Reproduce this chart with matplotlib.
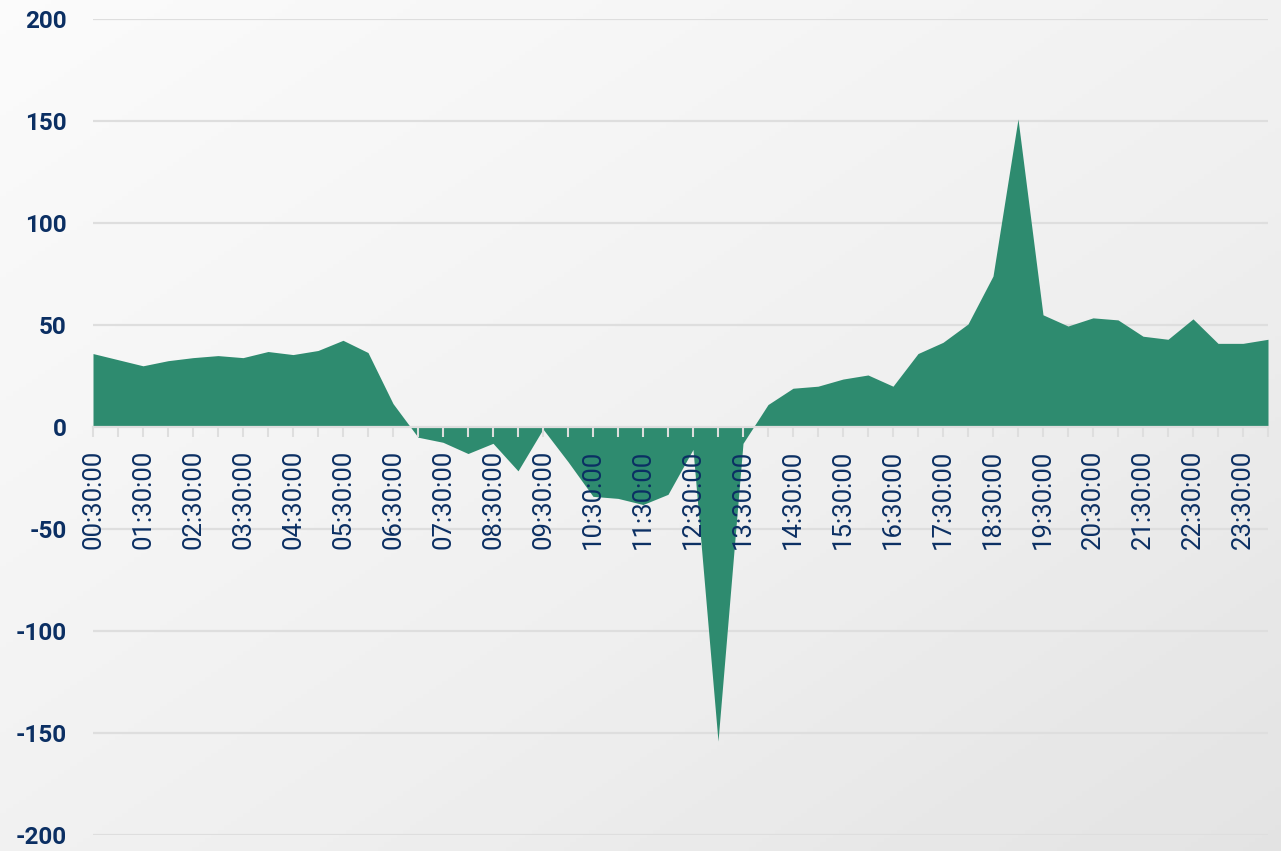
import numpy as np
import matplotlib.pyplot as plt

# half-hour slots, 00:30 .. 24:00
times = ['00:30:00', '01:00:00', '01:30:00', '02:00:00', '02:30:00', '03:00:00',
         '03:30:00', '04:00:00', '04:30:00', '05:00:00', '05:30:00', '06:00:00',
         '06:30:00', '07:00:00', '07:30:00', '08:00:00', '08:30:00', '09:00:00',
         '09:30:00', '10:00:00', '10:30:00', '11:00:00', '11:30:00', '12:00:00',
         '12:30:00', '13:00:00', '13:30:00', '14:00:00', '14:30:00', '15:00:00',
         '15:30:00', '16:00:00', '16:30:00', '17:00:00', '17:30:00', '18:00:00',
         '18:30:00', '19:00:00', '19:30:00', '20:00:00', '20:30:00', '21:00:00',
         '21:30:00', '22:00:00', '22:30:00', '23:00:00', '23:30:00', '24:00:00']

values = [36, 33, 30, 32.5, 34, 35, 34, 37, 35.5, 37.5, 42.5, 36.5,
          11.5, -5, -7.5, -13, -8, -21.5, -1, -17, -34, -35, -38, -33,
          -11, -154, -8, 11, 19, 20, 23.5, 25.5, 20, 36, 41.5, 50.5,
          74, 151, 55, 49.5, 53.5, 52.5, 44.5, 43, 53, 41, 41, 43]

yticks = [-200, -150, -100, -50, 0, 50, 100, 150, 200]

navy = '#0b2f63'
green = '#2e8b6f'

plt.rcParams['font.family'] = ['Roboto', 'DejaVu Sans']

fig = plt.figure(figsize=(12.81, 8.51), dpi=100)

# soft diagonal gradient background
bg = fig.add_axes([0, 0, 1, 1], zorder=-1)
gx, gy = np.meshgrid(np.linspace(0, 1, 200), np.linspace(0, 1, 200))
grad = (gx + gy) / 2
bg.imshow(grad, cmap='Greys', vmin=-0.2, vmax=6, aspect='auto', origin='upper')
bg.axis('off')

ax = fig.add_axes([93 / 1281, 1 - 835 / 851, (1268 - 93) / 1281, (835 - 19) / 851])
ax.set_facecolor('none')

x = np.arange(len(values))
ax.fill_between(x, values, 0, color=green, linewidth=0, zorder=1)

for yv in yticks:
    if yv != 0:
        ax.axhline(yv, color='#dedede', lw=1.6, zorder=0)

ax.set_xlim(0, len(values) - 1)
ax.set_ylim(-200, 200)

for s in ['top', 'right', 'left']:
    ax.spines[s].set_visible(False)
ax.spines['bottom'].set_position(('data', 0))
ax.spines['bottom'].set_color('#dedede')
ax.spines['bottom'].set_linewidth(1.6)

ax.set_xticks(x[::2])
ax.set_xticklabels(times[::2], rotation=90, va='top', ha='center',
                   fontsize=18.5, color=navy)
ax.set_xticks(x, minor=True)
ax.tick_params(axis='x', which='both', length=7.5, width=1.5, color='#dedede',
               pad=9)

ax.set_yticks(yticks)
ax.set_yticklabels([str(v) for v in yticks], fontsize=17.5, fontweight='bold',
                   color=navy)
ax.tick_params(axis='y', length=0, pad=19)

fig.savefig('out.png', dpi=100)
